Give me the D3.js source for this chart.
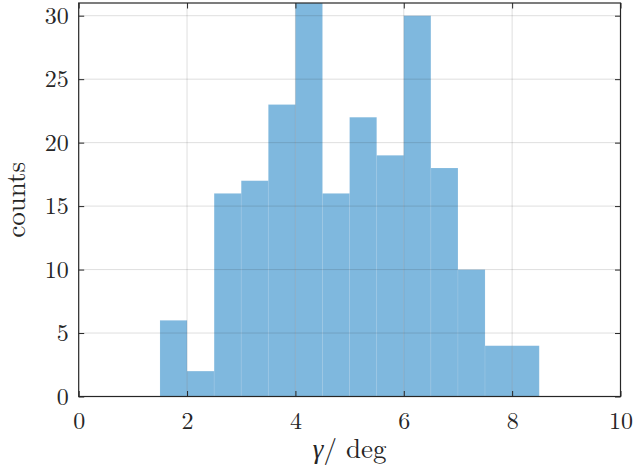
<!DOCTYPE html>
<html>
<head>
<meta charset="utf-8">
<script src="https://cdn.jsdelivr.net/npm/d3@7"></script>
<style>
  body { margin: 0; background: #fff; }
</style>
</head>
<body>
<div id="chart"></div>
<script>
const binEdges = [1.5, 2, 2.5, 3, 3.5, 4, 4.5, 5, 5.5, 6, 6.5, 7, 7.5, 8, 8.5];
const counts = [6, 2, 16, 17, 23, 31, 16, 22, 19, 30, 18, 10, 4, 4];
const xTicks = [0, 2, 4, 6, 8, 10];
const yTicks = [0, 5, 10, 15, 20, 25, 30];

const FONT = "'Latin Modern Roman', 'Liberation Serif', serif";
const W = 634, H = 473;
const margin = { top: 3, right: 13.5, bottom: 76.5, left: 78.7 };
const width = W - margin.left - margin.right,
  height = H - margin.top - margin.bottom;

const svg = d3
  .select("#chart")
  .append("svg")
  .attr("width", W)
  .attr("height", H)
  .append("g")
  .attr("transform", `translate(${margin.left},${margin.top})`);

const x = d3.scaleLinear().domain([0, 10]).range([0, width]);
const y = d3.scaleLinear().domain([0, 31]).range([height, 0]);

const bins = counts.map((c, i) => ({ x0: binEdges[i], x1: binEdges[i + 1], n: c }));

svg
  .selectAll(".bar")
  .data(bins)
  .enter()
  .append("rect")
  .attr("class", "bar")
  .attr("x", (d) => x(d.x0))
  .attr("y", (d) => y(d.n))
  .attr("width", (d) => x(d.x1) - x(d.x0))
  .attr("height", (d) => y(0) - y(d.n))
  .style("fill", "#0072bd")
  .style("fill-opacity", 0.5)
  .style("stroke", "#ffffff")
  .style("stroke-opacity", 0.12)
  .style("stroke-width", 0.8);

// grid on top, like MATLAB
svg
  .selectAll(".vgrid")
  .data(xTicks.slice(1, -1))
  .enter()
  .append("line")
  .attr("x1", (d) => x(d))
  .attr("x2", (d) => x(d))
  .attr("y1", 0)
  .attr("y2", height)
  .style("stroke", "#262626")
  .style("stroke-opacity", 0.15)
  .style("stroke-width", 1);

svg
  .selectAll(".hgrid")
  .data(yTicks.slice(1))
  .enter()
  .append("line")
  .attr("x1", 0)
  .attr("x2", width)
  .attr("y1", (d) => y(d))
  .attr("y2", (d) => y(d))
  .style("stroke", "#262626")
  .style("stroke-opacity", 0.15)
  .style("stroke-width", 1);

const tickLen = 5.5;
const styleAxis = (g) => {
  g.attr("font-family", FONT).attr("font-size", 24);
  g.select(".domain").remove();
  g.selectAll("line").style("stroke", "#262626").style("stroke-width", 1);
  g.selectAll("text").style("fill", "#262626");
};

svg
  .append("g")
  .attr("transform", `translate(0,${height})`)
  .call(d3.axisBottom(x).tickValues(xTicks).tickSize(-tickLen).tickPadding(15).tickFormat(d3.format("d")))
  .call(styleAxis);

svg
  .append("g")
  .call(d3.axisTop(x).tickValues(xTicks).tickSize(-tickLen).tickFormat(""))
  .call(styleAxis);

svg
  .append("g")
  .call(d3.axisLeft(y).tickValues(yTicks).tickSize(-tickLen).tickPadding(10).tickFormat(d3.format("d")))
  .call(styleAxis);

svg
  .append("g")
  .attr("transform", `translate(${width},0)`)
  .call(d3.axisRight(y).tickValues(yTicks).tickSize(-tickLen).tickFormat(""))
  .call(styleAxis);

svg
  .append("rect")
  .attr("x", 0)
  .attr("y", 0)
  .attr("width", width)
  .attr("height", height)
  .style("fill", "none")
  .style("stroke", "#262626")
  .style("stroke-width", 1.2);

svg
  .append("text")
  .attr("x", width / 2)
  .attr("y", height + 61.5)
  .attr("text-anchor", "middle")
  .attr("font-family", FONT)
  .attr("font-size", 27)
  .style("fill", "#262626")
  .html('<tspan font-style="italic">γ</tspan>/ deg');

svg
  .append("text")
  .attr("transform", `translate(${-53.7},${height / 2}) rotate(-90)`)
  .attr("text-anchor", "middle")
  .attr("font-family", FONT)
  .attr("font-size", 27)
  .style("fill", "#262626")
  .text("counts");
</script>
</body>
</html>
